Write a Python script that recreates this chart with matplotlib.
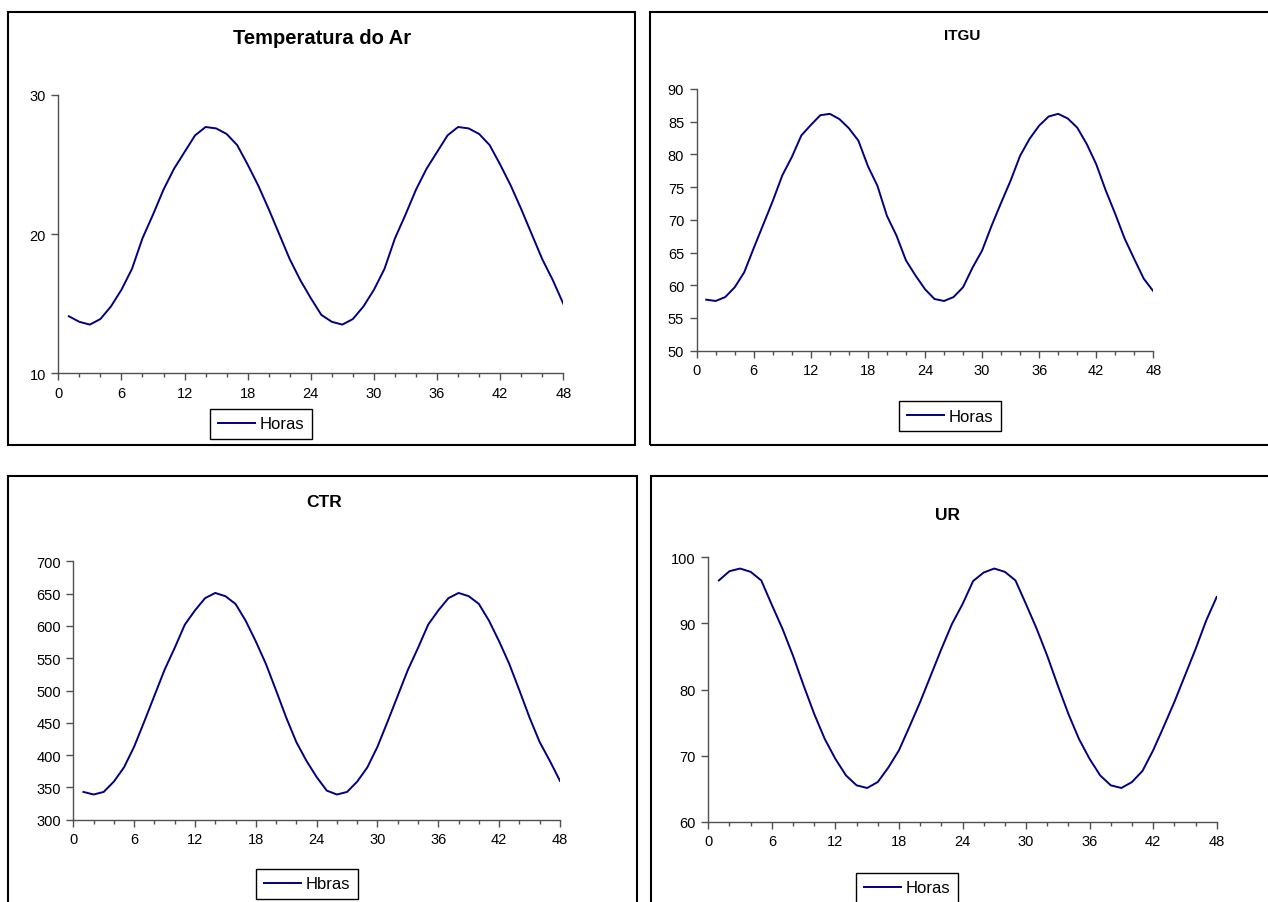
import matplotlib
matplotlib.use("Agg")
import matplotlib.pyplot as plt
from matplotlib.patches import Rectangle
from matplotlib.ticker import MultipleLocator

plt.rcParams['font.family'] = ['Liberation Sans', 'DejaVu Sans']

horas = list(range(1, 49))

temperatura = [14.1, 13.7, 13.5, 13.9, 14.8, 16.0, 17.5, 19.7, 21.4, 23.2, 24.7, 25.9,
               27.1, 27.7, 27.6, 27.2, 26.4, 25.0, 23.5, 21.8, 20.0, 18.2, 16.7, 15.4,
               14.2, 13.7, 13.5, 13.9, 14.8, 16.0, 17.5, 19.7, 21.4, 23.2, 24.7, 25.9,
               27.1, 27.7, 27.6, 27.2, 26.4, 25.0, 23.5, 21.8, 20.0, 18.2, 16.7, 15.0]

itgu = [57.8, 57.6, 58.2, 59.7, 62.0, 65.7, 69.3, 72.9, 76.8, 79.6, 82.9, 84.5,
        86.0, 86.2, 85.4, 84.0, 82.1, 78.2, 75.2, 70.6, 67.6, 63.8, 61.5, 59.4,
        57.9, 57.6, 58.2, 59.7, 62.7, 65.3, 69.1, 72.6, 76.0, 79.8, 82.4, 84.4,
        85.8, 86.2, 85.5, 84.1, 81.6, 78.5, 74.5, 70.9, 67.1, 64.0, 61.0, 59.1]

ctr = [343, 339, 343, 359, 381, 413, 452, 492, 532, 566, 602, 624,
       643, 651, 646, 634, 608, 576, 541, 500, 458, 420, 391, 366,
       345, 339, 343, 359, 381, 413, 452, 492, 532, 566, 602, 624,
       643, 651, 646, 634, 608, 576, 541, 500, 458, 420, 391, 360]

ur = [96.5, 97.9, 98.3, 97.8, 96.5, 92.8, 89.2, 85.1, 80.6, 76.3, 72.5, 69.5,
      67.0, 65.5, 65.1, 66.0, 68.2, 70.8, 74.4, 78.1, 82.1, 86.1, 89.9, 92.9,
      96.4, 97.7, 98.3, 97.8, 96.5, 92.9, 89.2, 85.1, 80.6, 76.3, 72.5, 69.5,
      67.0, 65.5, 65.1, 66.0, 67.7, 70.8, 74.4, 78.1, 82.1, 86.1, 90.4, 94.0]

W, H = 1268, 903
fig = plt.figure(figsize=(W / 100, H / 100), dpi=100)
fig.patch.set_facecolor('white')


def fx(x):
    return x / W


def fy(y):
    return 1 - y / H


def frame(x0, y0, x1, y1):
    fig.add_artist(Rectangle((fx(x0), fy(y1)), fx(x1 - x0), (y1 - y0) / H,
                             transform=fig.transFigure, fill=False,
                             edgecolor='black', linewidth=1.5))


def panel(box, y, ylim, ystep, title, tsize, tpos, legtxt, legpos):
    x0, y0, x1, y1 = box
    ax = fig.add_axes([fx(x0), fy(y1), fx(x1 - x0), (y1 - y0) / H])
    ax.plot(horas, y, color='#000080', linewidth=1.4, label=legtxt)
    ax.set_xlim(0, 48)
    ax.set_ylim(*ylim)
    ax.xaxis.set_major_locator(MultipleLocator(6))
    ax.xaxis.set_minor_locator(MultipleLocator(2))
    ax.yaxis.set_major_locator(MultipleLocator(ystep))
    for s in ['top', 'right']:
        ax.spines[s].set_visible(False)
    for s in ['left', 'bottom']:
        ax.spines[s].set_color('#505050')
        ax.spines[s].set_linewidth(1.0)
    ax.tick_params(axis='both', which='major', direction='out', length=5,
                   width=1, color='#505050', labelsize=10.5, pad=4)
    ax.tick_params(axis='x', which='minor', direction='out', length=3,
                   width=1, color='#505050')
    ax.tick_params(axis='y', which='minor', length=0)
    fig.text(fx(tpos[0]), fy(tpos[1]), title, ha='center', va='center',
             fontsize=tsize, fontweight='bold')
    leg = ax.legend(loc='center', bbox_to_anchor=(fx(legpos[0]), fy(legpos[1])),
                    bbox_transform=fig.transFigure, fontsize=12,
                    fancybox=False, framealpha=1, edgecolor='black',
                    handlelength=2.2, handletextpad=0.3, borderpad=0.45,
                    borderaxespad=0)
    leg.get_frame().set_linewidth(1.0)
    return ax


frame(8, 13, 635, 446)
frame(650, 13, 1300, 446)
frame(8, 477, 637, 950)
frame(651, 477, 1300, 950)

panel((58.3, 96, 563.3, 374.3), temperatura, (10, 30), 10,
      'Temperatura do Ar', 14.5, (322, 39), 'Horas', (261, 425))
panel((696.7, 90, 1153.3, 351.7), itgu, (50, 90), 5,
      'ITGU', 11, (962, 36), 'Horas', (950, 417))
panel((73.3, 562.3, 560, 820.7), ctr, (300, 700), 50,
      'CTR', 12.5, (324, 503), 'Hbras', (307, 885))
panel((708.3, 558.3, 1216.7, 822.7), ur, (60, 100), 10,
      'UR', 12.5, (947, 516), 'Horas', (907, 889))

fig.savefig('out.png', dpi=100)
